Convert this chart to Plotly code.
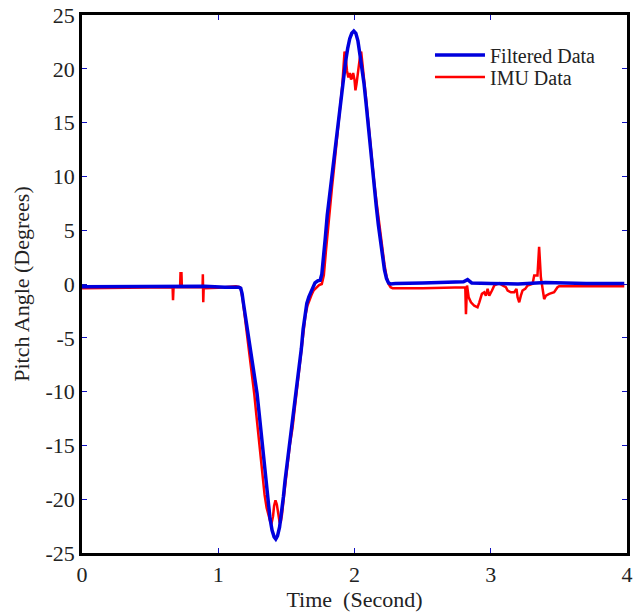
import plotly.graph_objects as go

# Filtered data (time in seconds, pitch angle in degrees)
filt_t = [0.00, 0.30, 0.60, 0.90, 1.05, 1.15, 1.165, 1.175, 1.185, 1.20, 1.22, 1.245, 1.267, 1.285,
          1.30, 1.319, 1.335, 1.35, 1.365, 1.38, 1.395, 1.41, 1.422, 1.435, 1.45, 1.463, 1.478,
          1.49, 1.505, 1.52, 1.538, 1.555, 1.57, 1.585, 1.597, 1.61, 1.623, 1.635, 1.65, 1.665,
          1.68, 1.695, 1.71, 1.73, 1.748, 1.76, 1.772, 1.785, 1.80, 1.815, 1.83, 1.845, 1.86,
          1.875, 1.89, 1.905, 1.92, 1.935, 1.95, 1.965, 1.98, 1.995, 2.01, 2.025, 2.04, 2.055,
          2.07, 2.085, 2.10, 2.117, 2.13, 2.145, 2.16, 2.175, 2.19, 2.205, 2.22, 2.235, 2.25,
          2.265, 2.30, 2.50, 2.70, 2.80, 2.83, 2.86, 3.00, 3.20, 3.40, 3.50, 3.70, 3.98]
filt_v = [-0.25, -0.22, -0.15, -0.2, -0.3, -0.3, -0.4, -0.9, -1.8, -3.0, -4.8, -6.6, -8.3, -10.2,
          -12.0, -14.4, -16.3, -18.2, -20.2, -21.8, -22.9, -23.5, -23.7, -23.4, -22.6, -21.4, -19.8,
          -18.3, -16.8, -15.4, -13.7, -12.0, -10.5, -9.0, -7.7, -6.0, -4.2, -2.8, -1.8, -1.2,
          -0.7, -0.3, 0.1, 0.3, 0.35, 0.9, 2.2, 4.2, 6.4, 8.0, 9.5, 11.2, 13.0,
          14.6, 16.0, 17.5, 19.2, 20.7, 21.9, 22.8, 23.3, 23.5, 23.3, 22.6, 21.3, 20.0,
          18.6, 16.8, 14.8, 12.4, 10.6, 9.0, 7.2, 5.5, 3.9, 2.5, 1.3, 0.5, 0.1,
          0.0, 0.05, 0.1, 0.15, 0.2, 0.4, 0.1, 0.05, 0.0, 0.15, 0.1, 0.05, 0.05]

# IMU data
imu_t = [0.00, 0.40, 0.60, 0.665, 0.668, 0.672, 0.72, 0.723, 0.730, 0.733, 0.885, 0.887, 0.890, 0.893,
         1.00, 1.13, 1.16, 1.168, 1.18, 1.195, 1.21, 1.23, 1.25, 1.265, 1.28, 1.295, 1.31, 1.325,
         1.34, 1.355, 1.37, 1.382, 1.392, 1.402, 1.41, 1.42, 1.43, 1.44, 1.45, 1.458, 1.468, 1.48,
         1.495, 1.51, 1.525, 1.545, 1.56, 1.575, 1.59, 1.603, 1.615, 1.628, 1.64, 1.655, 1.67,
         1.685, 1.70, 1.72, 1.74, 1.76, 1.775, 1.79, 1.805, 1.82, 1.835, 1.85, 1.865, 1.88, 1.895,
         1.91, 1.92, 1.927, 1.935, 1.945, 1.955, 1.965, 1.975, 1.99, 2.0, 2.007, 2.015, 2.025,
         2.037, 2.049, 2.058, 2.07, 2.085, 2.10, 2.115, 2.13, 2.145, 2.16, 2.175, 2.19, 2.205,
         2.22, 2.235, 2.25, 2.265, 2.28, 2.50,
         2.70, 2.813, 2.818, 2.826, 2.838, 2.855, 2.879, 2.903, 2.916, 2.935, 2.952, 2.964, 2.977,
         2.989, 3.009, 3.026, 3.050, 3.062, 3.087, 3.111, 3.124, 3.148, 3.172, 3.189, 3.197, 3.209,
         3.221, 3.233, 3.253, 3.270, 3.307, 3.319, 3.343, 3.355, 3.368, 3.380, 3.392, 3.405, 3.429,
         3.465, 3.490, 3.502, 3.70, 3.98]
imu_v = [-0.4, -0.35, -0.3, -0.3, -1.5, -0.3, -0.3, 1.0, 1.0, -0.3, -0.3, 0.9, -1.7, -0.4,
         -0.35, -0.2, -0.3, -0.6, -1.5, -3.0, -4.5, -6.4, -8.4, -10.3, -12.2, -14.2, -16.2, -18.0,
         -19.6, -20.8, -21.6, -22.1, -22.2, -21.6, -20.6, -20.1, -20.5, -21.4, -22.1, -22.2, -21.4, -20.0,
         -18.3, -16.6, -15.0, -13.4, -11.8, -10.2, -8.6, -7.2, -5.6, -4.0, -2.9, -2.0, -1.4,
         -1.0, -0.6, -0.3, -0.1, 0.0, 0.8, 3.0, 5.2, 7.2, 9.0, 10.8, 12.6, 14.4, 16.2,
         18.4, 20.3, 21.6, 21.2, 19.8, 19.2, 19.6, 19.0, 19.6, 19.0, 18.0, 18.6, 19.8,
         20.8, 21.6, 20.6, 19.0, 17.2, 15.2, 13.0, 11.0, 9.4, 7.8, 6.2, 4.6, 3.1,
         1.8, 0.7, 0.0, -0.3, -0.4, -0.4,
         -0.35, -0.3, -2.8, -0.14, -1.24, -1.70, -2.02, -2.17, -1.70, -0.92, -0.77, -1.08, -0.45,
         -1.08, -0.61, -0.14, 0.02, 0.08, -0.14, -0.30, -0.61, -0.77, -0.77, -0.45, -1.24, -1.70,
         -1.08, -0.61, -0.45, -0.14, 0.02, 0.80, 0.80, 3.45, 0.60, -0.61, -1.40, -1.08, -0.92,
         -0.77, -0.30, -0.2, -0.2, -0.2]

x_ticks = [0, 1, 2, 3, 4]
y_ticks = [-25, -20, -15, -10, -5, 0, 5, 10, 15, 20, 25]

font = "Liberation Serif, Times New Roman, serif"

fig = go.Figure()
fig.add_trace(go.Scatter(x=imu_t, y=imu_v, mode="lines", name="IMU Data",
                         line=dict(color="#ff0000", width=2.5), legend="legend2"))
fig.add_trace(go.Scatter(x=filt_t, y=filt_v, mode="lines", name="Filtered Data",
                         line=dict(color="#0000dd", width=3.5), legend="legend"))

leg_common = dict(xanchor="left", yanchor="middle", bgcolor="rgba(0,0,0,0)",
                  font=dict(size=20, family=font, color="#222222"), itemwidth=50)

fig.update_layout(
    width=641, height=613,
    margin=dict(l=82, r=14, t=15, b=60),
    paper_bgcolor="white", plot_bgcolor="white",
    font=dict(family=font, size=22, color="#222222"),
    showlegend=True,
    legend=dict(x=0.6385, y=(553 - 55) / 538, **leg_common),
    legend2=dict(x=0.6385, y=(553 - 77) / 538, **leg_common),
    xaxis=dict(range=[0, 4], tickvals=x_ticks, ticktext=[str(v) for v in x_ticks],
               showgrid=False, zeroline=False, showline=True, linecolor="black", linewidth=2.5,
               mirror="ticks", ticks="inside", ticklen=5, tickcolor="#1010c0", tickwidth=1.2,
               automargin=False, ticklabeloverflow="allow",
               title=dict(text="Time  (Second)", standoff=4, font=dict(size=22)),
               tickfont=dict(size=22)),
    yaxis=dict(range=[-25, 25], tickvals=y_ticks, ticktext=[str(v) for v in y_ticks],
               showgrid=False, zeroline=False, showline=True, linecolor="black", linewidth=2.5,
               mirror="ticks", ticks="inside", ticklen=5, tickcolor="#1010c0", tickwidth=1.2,
               automargin=False, ticklabeloverflow="allow",
               title=dict(text="Pitch Angle (Degrees)", standoff=10, font=dict(size=22)),
               tickfont=dict(size=22)),
)

fig.write_html("out.html", config={"displayModeBar": False},
               post_script="document.body.style.margin='0';document.body.style.overflow='hidden';")
